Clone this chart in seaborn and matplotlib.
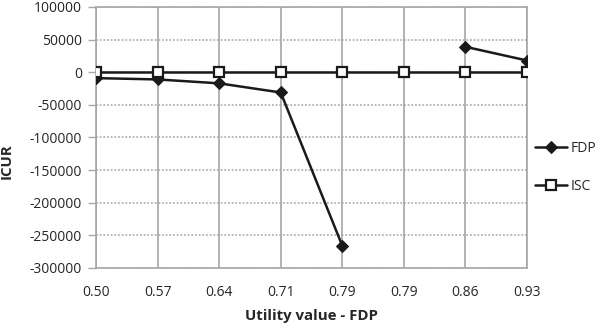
import pandas as pd
import numpy as np
import matplotlib
matplotlib.use('Agg')
import matplotlib.pyplot as plt
import seaborn as sns

# data
utility_labels = ['0.50', '0.57', '0.64', '0.71', '0.79', '0.79', '0.86', '0.93']
fdp_icur = [-9000, -11000, -17000, -31000, -266000, np.nan, 39000, 18000]
isc_icur = [0, 0, 0, 0, 0, 0, 0, 0]

sns.set_style('white')
plt.rcParams['font.family'] = ['Open Sans', 'DejaVu Sans']

pos = np.arange(len(utility_labels))
fdp = pd.DataFrame({'pos': pos, 'icur': fdp_icur})
# break the FDP line where the value is missing
fdp['seg'] = fdp['icur'].isna().cumsum()
fdp = fdp.dropna()
isc = pd.DataFrame({'pos': pos, 'icur': isc_icur})

fig = plt.figure(figsize=(6.02, 3.28), dpi=100)
ax = fig.add_axes([96 / 602, 1 - 268 / 328, 431 / 602, 261 / 328])

line_col = '#1a1a1a'
for seg, part in fdp.groupby('seg'):
    sns.lineplot(data=part, x='pos', y='icur', ax=ax, color=line_col, lw=1.8,
                 marker='D', markersize=6.5, markeredgecolor=line_col,
                 markerfacecolor=line_col, label='FDP' if seg == 0 else None,
                 zorder=3)
sns.lineplot(data=isc, x='pos', y='icur', ax=ax, color=line_col, lw=1.8,
             marker='s', markersize=7, markerfacecolor='white',
             markeredgecolor=line_col, markeredgewidth=1.6, label='ISC',
             zorder=4)

ax.set_xlim(0, len(utility_labels) - 1)
ax.set_ylim(-300000, 100000)
ax.set_xticks(pos)
ax.set_xticklabels(utility_labels)
ax.set_yticks(np.arange(-300000, 100001, 50000))
ax.set_yticklabels([f'{int(v)}' for v in np.arange(-300000, 100001, 50000)])

grid_col = '#a6a6a6'
ax.xaxis.grid(True, color=grid_col, lw=1.2, ls='-')
ax.yaxis.grid(True, color=grid_col, lw=1.1, ls=(0, (1.2, 1.2)))
for s in ax.spines.values():
    s.set_color(grid_col)
    s.set_linewidth(1.2)

ax.tick_params(axis='y', which='both', left=True, length=6, width=1,
               color=grid_col, labelsize=10, labelcolor='#262626', pad=4)
ax.tick_params(axis='x', bottom=False, labelsize=10, labelcolor='#262626', pad=9)

ax.set_xlabel('Utility value - FDP', fontsize=10.8, fontweight='bold',
              color='#262626', labelpad=6)
ax.set_ylabel('ICUR', fontsize=10.8, fontweight='bold', color='#262626')
ax.yaxis.set_label_coords(-0.19, 0.41)

leg = ax.legend(loc='center left', bbox_to_anchor=(1.005, 0.385), frameon=False,
                fontsize=10, handlelength=2.3, handletextpad=0.3,
                labelspacing=1.65, borderaxespad=0)
for t in leg.get_texts():
    t.set_color('#262626')

plt.savefig('out.png', dpi=100)
